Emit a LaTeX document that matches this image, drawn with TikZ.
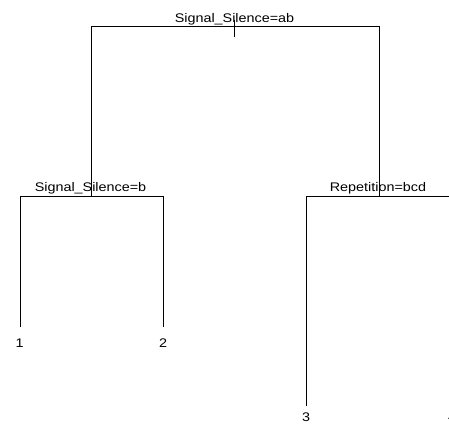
\documentclass[tikz,border=0pt]{standalone}
\usepackage{fontspec}
\setmainfont{Liberation Sans}[FakeStretch=1.15]
\begin{document}
\begin{tikzpicture}[x=1pt,y=-1pt,
  branch/.style={draw=black,line width=1pt},
  splitlabel/.style={anchor=base,inner sep=0pt,font=\fontsize{12.5}{15}\selectfont},
  leaflabel/.style={anchor=base,inner sep=0pt,font=\fontsize{12.5}{15}\selectfont}]
\useasboundingbox[fill=white] (0,0) rectangle (449,423);
\begin{scope}
\clip (0,0) rectangle (449,423);
% tree node positions
\coordinate (r) at (234,26.5);
\coordinate (a) at (91.5,196.5);
\coordinate (b) at (379,196.5);
\coordinate (l1) at (20,327);
\coordinate (l2) at (163,327);
\coordinate (l3) at (306,406);
\coordinate (l4) at (452,406);
\coordinate (rtop) at (234,20);
\coordinate (rbot) at (234,37);
% split labels
\node[splitlabel] (sr) at (234.5,22) {Signal\_Silence=ab};
\node[splitlabel] (sa) at (90.5,191) {Signal\_Silence=b};
\node[splitlabel] (sb) at (378,191) {Repetition=bcd};
% leaf labels
\node[leaflabel] (t1) at (19.5,347) {1};
\node[leaflabel] (t2) at (163,347) {2};
\node[leaflabel] (t3) at (306,421) {3};
\node[leaflabel] (t4) at (452,421) {4};
% branches
\draw[branch] (rtop) -- (rbot);
\draw[branch] (a) -- (a|-r) -- (b|-r) -- (b);
\draw[branch] (l1) -- (l1|-a) -- (l2|-a) -- (l2);
\draw[branch] (l3) -- (l3|-b) -- (l4|-b) -- (l4);
\end{scope}
\end{tikzpicture}
\end{document}
